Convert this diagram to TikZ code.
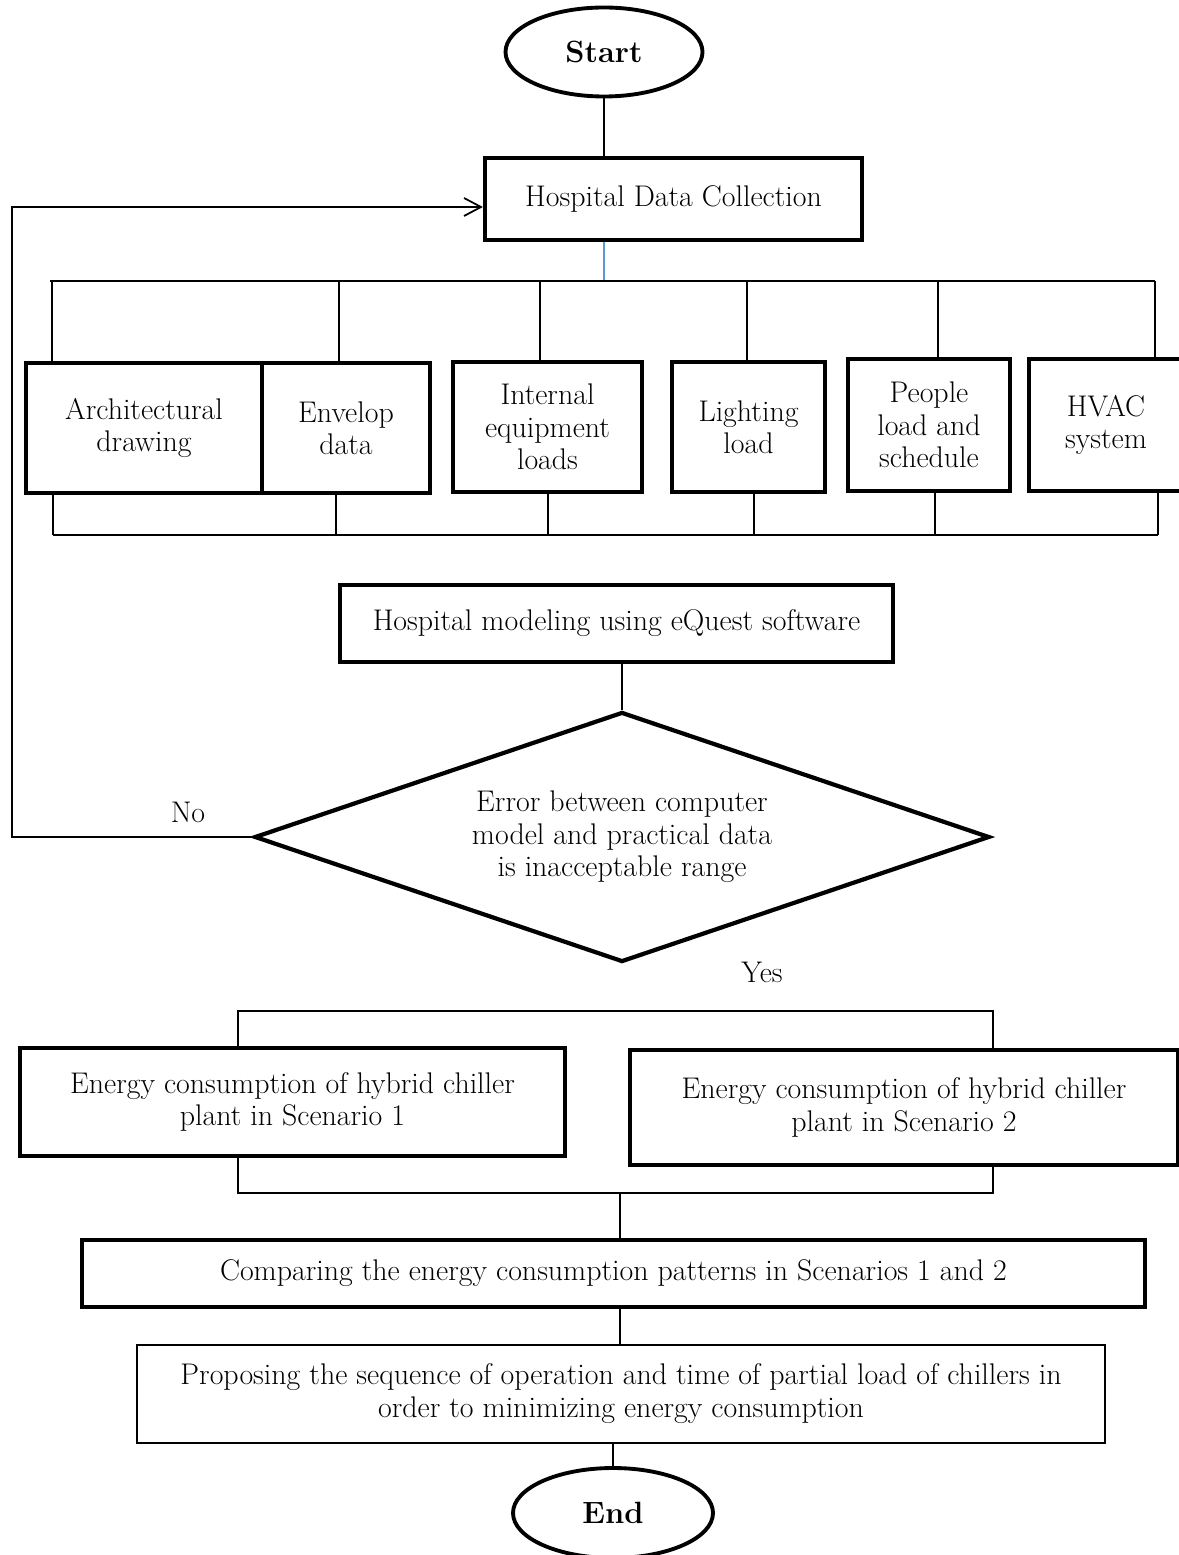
\documentclass[tikz,border=0pt]{standalone}
\usepackage{amsmath,amssymb}
\usepackage{tikz}
\usetikzlibrary{positioning,shapes.geometric,arrows.meta}
\definecolor{busblue}{RGB}{91,155,213}

\begin{document}
\begin{tikzpicture}[>={Straight Barb[length=3.4mm,width=3.6mm]}, line width=1pt,
    box/.style={rectangle,draw,line width=2.4pt,align=center,inner sep=2pt,font=\fontsize{17}{18.4}\selectfont},
    term/.style={ellipse,draw,line width=2.2pt,inner sep=0pt,font=\fontsize{17.5}{20}\selectfont\bfseries},
    test/.style={diamond,draw,line width=2.4pt,shape aspect=2.94,inner sep=0pt,align=center,font=\fontsize{17}{18.4}\selectfont},
    lbl/.style={font=\fontsize{17}{18.4}\selectfont}
    ]
    \useasboundingbox (0,0) rectangle (23.56,-31.10);
    \node[term,minimum width=3.94cm,minimum height=1.78cm] at (12.08,-1.04) (start) {Start};
    \node[box,minimum width=7.54cm,minimum height=1.64cm] at (13.47,-3.98) (hdc) {Hospital Data Collection};
    \node[box,minimum width=4.72cm,minimum height=2.60cm] at (2.88,-8.56) (arch) {Architectural\\drawing};
    \node[box,minimum width=3.36cm,minimum height=2.60cm] at (6.92,-8.56) (env) {Envelop\\data};
    \node[box,minimum width=3.78cm,minimum height=2.60cm] at (10.95,-8.54) (intl) {Internal\\equipment\\loads};
    \node[box,minimum width=3.06cm,minimum height=2.60cm] at (14.97,-8.54) (light) {Lighting\\load};
    \node[box,minimum width=3.24cm,minimum height=2.64cm] at (18.58,-8.50) (people) {People\\load and\\schedule};
    \node[box,minimum width=3.08cm,minimum height=2.64cm] at (22.12,-8.50) (hvac) {HVAC\\system};
    \node[box,minimum width=11.06cm,minimum height=1.54cm] at (12.33,-12.47) (model) {Hospital modeling using eQuest software};
    \node[test,minimum width=14.70cm,minimum height=5.00cm] at (12.44,-16.74) (dia) {Error between computer\\model and practical data\\is inacceptable range};
    \node[lbl] at (3.76,-16.24) (no) {No};
    \node[lbl] at (15.24,-19.44) (yes) {Yes};
    \node[box,minimum width=10.90cm,minimum height=2.16cm] at (5.85,-22.04) (sc1) {Energy consumption of hybrid chiller\\plant in Scenario 1};
    \node[box,minimum width=10.96cm,minimum height=2.30cm] at (18.08,-22.15) (sc2) {Energy consumption of hybrid chiller\\plant in Scenario 2};
    \node[box,minimum width=21.26cm,minimum height=1.34cm] at (12.27,-25.47) (cmp) {Comparing the energy consumption patterns in Scenarios 1 and 2};
    \node[box,line width=1pt,minimum width=19.36cm,minimum height=1.96cm,font=\fontsize{17}{18.8}\selectfont] at (12.42,-27.88) (prop) {Proposing the sequence of operation and time of partial load of chillers in\\order to minimizing energy consumption};
    \node[term,minimum width=4.00cm,minimum height=1.80cm] at (12.26,-30.26) (stop) {End};
    % top part
    \coordinate (busL) at (1.00,-5.62);
    \coordinate (busR) at (23.10,-5.62);
    \coordinate (busbL) at (1.06,-10.70);
    \coordinate (busbR) at (23.16,-10.70);
    \draw (start.south) -- (start.south |- hdc.north);
    \draw[busblue] (start.south |- hdc.south) -- (start.south |- busL);
    \draw (busL) -- (busR);
    \coordinate (archT) at ([xshift=-1.84cm]arch.north);
    \coordinate (envT) at ([xshift=-0.14cm]env.north);
    \coordinate (intlT) at ([xshift=-0.15cm]intl.north);
    \coordinate (lightT) at ([xshift=-0.03cm]light.north);
    \coordinate (peopleT) at ([xshift=0.18cm]people.north);
    \coordinate (hvacT) at ([xshift=0.98cm]hvac.north);
    \draw (archT) -- (archT |- busL);
    \draw (envT) -- (envT |- busL);
    \draw (intlT) -- (intlT |- busL);
    \draw (lightT) -- (lightT |- busL);
    \draw (peopleT) -- (peopleT |- busL);
    \draw (hvacT) -- (hvacT |- busL);
    \draw (busbL) -- (busbR);
    \coordinate (archB) at ([xshift=-1.82cm]arch.south);
    \coordinate (envB) at ([xshift=-0.20cm]env.south);
    \coordinate (intlB) at ([xshift=0.01cm]intl.south);
    \coordinate (lightB) at ([xshift=0.11cm]light.south);
    \coordinate (peopleB) at ([xshift=0.12cm]people.south);
    \coordinate (hvacB) at ([xshift=1.04cm]hvac.south);
    \draw (archB) -- (archB |- busbL);
    \draw (envB) -- (envB |- busbL);
    \draw (intlB) -- (intlB |- busbL);
    \draw (lightB) -- (lightB |- busbL);
    \draw (peopleB) -- (peopleB |- busbL);
    \draw (hvacB) -- (hvacB |- busbL);
    % check and loop back
    \draw (dia.north) -- (dia.north |- model.south);
    \coordinate (fbtop) at (0.24,-4.14);
    \draw[->] (dia.west) -| (fbtop) -- (fbtop -| hdc.west);
    % scenarios
    \coordinate (s1t) at ([xshift=-1.09cm]sc1.north);
    \coordinate (s2t) at ([xshift=1.78cm]sc2.north);
    \coordinate (s1b) at ([xshift=-1.09cm]sc1.south);
    \coordinate (s2b) at ([xshift=1.78cm]sc2.south);
    \coordinate (scbot) at (12.40,-23.86);
    \draw (s1t) -- ++(0,0.70) -| (s2t);
    \draw (s1b) |- (scbot) -| (s2b);
    \draw (scbot) -- (scbot |- cmp.north);
    \draw (cmp.south -| scbot) -- (scbot |- prop.north);
    \draw (stop.north) -- (stop.north |- prop.south);
\end{tikzpicture}
\end{document}
